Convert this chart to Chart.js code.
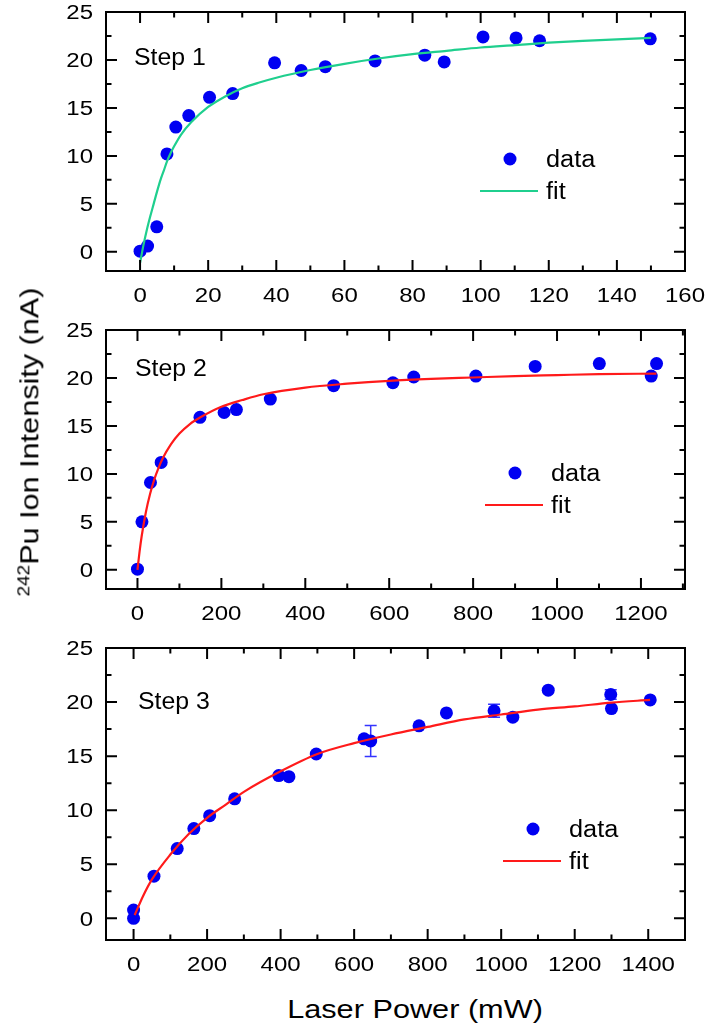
<!DOCTYPE html>
<html>
<head>
<meta charset="utf-8">
<script src="https://cdn.jsdelivr.net/npm/chart.js@4.4.1/dist/chart.umd.min.js"></script>
<style>
  html, body { margin: 0; padding: 0; background: #fff; }
  body { width: 708px; height: 1027px; position: relative; overflow: hidden;
         font-family: 'Liberation Sans', Arial, sans-serif; color: #000; }
  canvas { position: absolute; left: 0; }
  .title { position: absolute; white-space: nowrap; line-height: 1.15; }
  #ytitle { left: 30px; top: 442px; font-size: 25.5px;
            transform: translate(-50%, -50%) rotate(-90deg) scaleX(1.2); }
  #ytitle sup { font-size: 0.62em; vertical-align: 0.55em; line-height: 0; }
  #xtitle { left: 415px; top: 1010px; font-size: 26px;
            transform: translate(-50%, -50%) scaleX(1.18); }
</style>
</head>
<body>
<canvas id="step1" width="708" height="310" style="top:0px"></canvas>
<canvas id="step2" width="708" height="310" style="top:318px"></canvas>
<canvas id="step3" width="708" height="344" style="top:636px"></canvas>
<div id="ytitle" class="title"><sup>242</sup>Pu Ion Intensity (nA)</div>
<div id="xtitle" class="title">Laser Power (mW)</div>
<script>
// ---- data ----
var yTicks = [0, 5, 10, 15, 20, 25];

// Step 1
var step1X = [0, 2.2, 4.9, 7.9, 10.5, 14.3, 20.4, 27.2, 39.5, 47.3, 54.4, 69.0, 83.6, 89.3, 100.7, 110.4, 117.3, 149.8];
var step1Y = [0.07, 0.6, 2.6, 10.2, 13.0, 14.2, 16.1, 16.5, 19.7, 18.9, 19.3, 19.9, 20.5, 19.8, 22.4, 22.3, 22.0, 22.2];
var step1FitX = [0, 1, 2, 3, 4, 5, 6, 7, 8, 9, 10, 12, 15, 20, 25, 30, 35, 40, 50, 60, 70, 80, 90, 100, 110, 120, 130, 140, 150];
var step1FitY = [-1.15, 0.7, 2.3, 3.7, 5.0, 6.3, 7.5, 8.5, 9.5, 10.3, 11.0, 12.2, 13.5, 15.1, 16.2, 17.05, 17.65, 18.15, 18.95, 19.6, 20.15, 20.6, 20.95, 21.3, 21.55, 21.8, 22.0, 22.15, 22.3];
var step1XTicks = [0, 20, 40, 60, 80, 100, 120, 140, 160];

// Step 2
var step2X = [0, 10.7, 31, 56.5, 149, 206.5, 235.8, 316.6, 467.6, 608.8, 658.5, 806.6, 947.9, 1100.8, 1224.5, 1237.2];
var step2Y = [0.07, 5.0, 9.1, 11.2, 15.9, 16.4, 16.7, 17.8, 19.2, 19.5, 20.1, 20.2, 21.2, 21.5, 20.2, 21.5];
var step2FitX = [0, 5, 10, 20, 30, 40, 50, 60, 80, 100, 125, 150, 200, 250, 300, 400, 500, 600, 700, 800, 900, 1000, 1100, 1237];
var step2FitY = [0, 1.9, 3.5, 6.0, 7.9, 9.4, 10.6, 11.6, 13.1, 14.2, 15.2, 15.9, 17.0, 17.7, 18.3, 19.0, 19.4, 19.7, 19.9, 20.05, 20.2, 20.3, 20.4, 20.45];
var step2XTicks = [0, 200, 400, 600, 800, 1000, 1200];

// Step 3
var step3X = [0, 0, 55.5, 118.7, 164, 207, 275, 395, 422.6, 497, 627, 645, 776.5, 851, 980.6, 1031.6, 1128, 1298, 1300, 1405.4];
var step3Y = [0, 0.77, 3.9, 6.45, 8.3, 9.5, 11.05, 13.2, 13.1, 15.2, 16.6, 16.4, 17.8, 19.0, 19.2, 18.6, 21.1, 20.7, 19.4, 20.2];
var step3Err = [0, 0, 0, 0, 0, 0, 0, 0, 0, 0, 0, 1.43, 0, 0, 0.6, 0, 0, 0.45, 0, 0];
var step3FitX = [3, 25, 50, 100, 150, 200, 250, 300, 400, 500, 600, 700, 800, 900, 1000, 1100, 1200, 1300, 1405];
var step3FitY = [0.3, 2.0, 3.6, 5.9, 7.8, 9.3, 10.5, 11.7, 13.6, 15.2, 16.2, 17.0, 17.7, 18.4, 18.85, 19.3, 19.6, 19.95, 20.2];
var step3XTicks = [0, 200, 400, 600, 800, 1000, 1200, 1400];

var FONT = "'Liberation Sans', Arial, sans-serif";
var DOT = '#0000f2';

function pts(xs, ys) {
    return xs.map(function (x, i) { return { x: x, y: ys[i] }; });
}

function midpoints(t) {
    var m = [];
    for (var i = 0; i < t.length - 1; i++) m.push((t[i] + t[i + 1]) / 2);
    m.push(t[t.length - 1] + (t[1] - t[0]) / 2);
    return m;
}

// text stretched along its own direction (the figure's font runs wide)
function wideText(ctx, text, x, y, align, sx, size) {
    ctx.save();
    ctx.font = size + 'px ' + FONT;
    ctx.translate(x, y);
    ctx.scale(sx, 1);
    ctx.textAlign = align;
    ctx.textBaseline = 'alphabetic';
    ctx.fillText(text, 0, size * 0.358);
    ctx.restore();
}

// frame, inward ticks on all sides, tick labels, step label, legend, error bars
var panelPlugin = {
    id: 'panel',
    beforeDatasetsDraw: function (chart, args, o) {
        if (!o.err) return;
        var ctx = chart.ctx, x = chart.scales.x, y = chart.scales.y;
        ctx.save();
        ctx.strokeStyle = '#3434ff';
        ctx.lineWidth = 1.5;
        o.err.forEach(function (e, i) {
            if (!e) return;
            var px = x.getPixelForValue(o.errX[i]);
            var top = y.getPixelForValue(o.errY[i] + e), bot = y.getPixelForValue(o.errY[i] - e);
            ctx.beginPath();
            ctx.moveTo(px, top); ctx.lineTo(px, bot);
            ctx.moveTo(px - 6, top); ctx.lineTo(px + 6, top);
            ctx.moveTo(px - 6, bot); ctx.lineTo(px + 6, bot);
            ctx.stroke();
        });
        ctx.restore();
    },
    afterDraw: function (chart, args, o) {
        var ctx = chart.ctx, a = chart.chartArea;
        var x = chart.scales.x, y = chart.scales.y;
        ctx.save();
        ctx.strokeStyle = '#000';
        ctx.lineWidth = 2;
        ctx.lineCap = 'butt';
        ctx.beginPath();
        function tickX(v, len) {
            var px = x.getPixelForValue(v);
            if (px < a.left + 1 || px > a.right - 1) return;
            ctx.moveTo(px, a.bottom); ctx.lineTo(px, a.bottom - len);
            ctx.moveTo(px, a.top); ctx.lineTo(px, a.top + len);
        }
        function tickY(v, len) {
            var py = y.getPixelForValue(v);
            if (py < a.top + 1 || py > a.bottom - 1) return;
            ctx.moveTo(a.left, py); ctx.lineTo(a.left + len, py);
            ctx.moveTo(a.right, py); ctx.lineTo(a.right - len, py);
        }
        o.xTicks.forEach(function (v) { tickX(v, 11); });
        midpoints(o.xTicks).forEach(function (v) { tickX(v, 5.5); });
        yTicks.forEach(function (v) { tickY(v, 11); });
        midpoints(yTicks).forEach(function (v) { tickY(v, 5.5); });
        ctx.stroke();
        ctx.strokeRect(a.left, a.top, a.right - a.left, a.bottom - a.top);

        ctx.fillStyle = '#000';
        o.xTicks.forEach(function (v) {
            wideText(ctx, String(v), x.getPixelForValue(v), a.bottom + 24, 'center', 1.2, 20);
        });
        yTicks.forEach(function (v) {
            wideText(ctx, String(v), a.left - 13, y.getPixelForValue(v), 'right', 1.2, 20);
        });

        // step label
        wideText(ctx, o.step, a.left + o.stepPos[0], a.top + o.stepPos[1], 'left', 1.08, 23);

        // legend
        var lx = a.left + o.legend[0], ly = a.top + o.legend[1];
        ctx.fillStyle = DOT;
        ctx.beginPath();
        ctx.arc(lx, ly, 6.5, 0, Math.PI * 2);
        ctx.fill();
        ctx.strokeStyle = o.fitColor;
        ctx.lineWidth = 2.2;
        ctx.beginPath();
        ctx.moveTo(lx - 30, ly + 32); ctx.lineTo(lx + 28, ly + 32);
        ctx.stroke();
        ctx.fillStyle = '#000';
        wideText(ctx, 'data', lx + 36, ly, 'left', 1.1, 23);
        wideText(ctx, 'fit', lx + 36, ly + 32, 'left', 1.1, 23);
        ctx.restore();
    }
};

function makePanel(id, cfg) {
    var canvas = document.getElementById(id);
    var xHeight = canvas.height - 12 - cfg.plotH;
    return new Chart(canvas, {
        type: 'scatter',
        data: {
            datasets: [{
                label: 'fit',
                data: pts(cfg.fitX, cfg.fitY),
                showLine: true,
                borderColor: cfg.fitColor,
                borderWidth: 2.2,
                pointRadius: 0,
                cubicInterpolationMode: 'monotone',
                fill: false
            }, {
                label: 'data',
                data: pts(cfg.x, cfg.y),
                backgroundColor: DOT,
                borderWidth: 0,
                pointRadius: 6.5
            }]
        },
        options: {
            responsive: false,
            animation: false,
            events: [],
            layout: { padding: { top: 12, right: 23, left: 0, bottom: 0 } },
            plugins: {
                legend: { display: false },
                tooltip: { enabled: false },
                panel: {
                    xTicks: cfg.xTicks,
                    step: cfg.step,
                    stepPos: cfg.stepPos,
                    legend: cfg.legend,
                    fitColor: cfg.fitColor,
                    err: cfg.err,
                    errX: cfg.x,
                    errY: cfg.y
                }
            },
            scales: {
                x: {
                    type: 'linear',
                    min: cfg.xMin,
                    max: cfg.xMax,
                    grid: { display: false },
                    border: { display: false },
                    ticks: { display: false },
                    afterFit: function (s) { s.height = xHeight; }
                },
                y: {
                    type: 'linear',
                    min: -2,
                    max: 25,
                    grid: { display: false },
                    border: { display: false },
                    ticks: { display: false },
                    afterFit: function (s) { s.width = 106; }
                }
            }
        },
        plugins: [panelPlugin]
    });
}

makePanel('step1', {
    x: step1X, y: step1Y, fitX: step1FitX, fitY: step1FitY, xTicks: step1XTicks,
    xMin: -10, xMax: 160, plotH: 259, fitColor: '#1fcf8e',
    step: 'Step 1', stepPos: [28, 45], legend: [404, 147]
});
makePanel('step2', {
    x: step2X, y: step2Y, fitX: step2FitX, fitY: step2FitY, xTicks: step2XTicks,
    xMin: -75, xMax: 1305, plotH: 259, fitColor: '#ff1a1a',
    step: 'Step 2', stepPos: [29, 38], legend: [409, 143]
});
makePanel('step3', {
    x: step3X, y: step3Y, fitX: step3FitX, fitY: step3FitY, xTicks: step3XTicks,
    xMin: -75, xMax: 1500, plotH: 292, fitColor: '#ff1a1a',
    step: 'Step 3', stepPos: [32, 53], legend: [427, 181], err: step3Err
});
</script>
</body>
</html>
